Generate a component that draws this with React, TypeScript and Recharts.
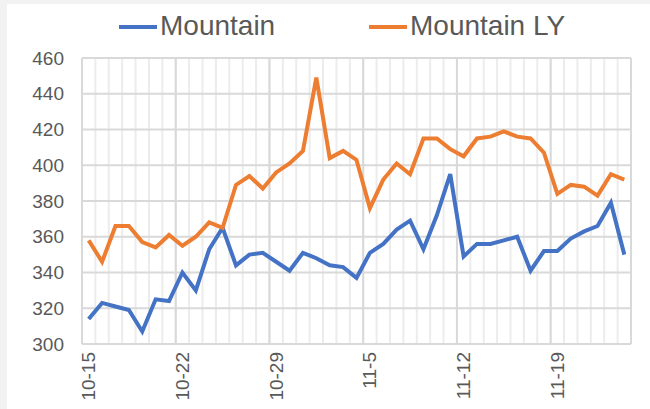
import React from "react";
import { LineChart, Line, XAxis, YAxis, CartesianGrid, Legend } from "recharts";

const dates = [
  "10-15", "10-16", "10-17", "10-18", "10-19", "10-20", "10-21",
  "10-22", "10-23", "10-24", "10-25", "10-26", "10-27", "10-28",
  "10-29", "10-30", "10-31", "11-1", "11-2", "11-3", "11-4",
  "11-5", "11-6", "11-7", "11-8", "11-9", "11-10", "11-11",
  "11-12", "11-13", "11-14", "11-15", "11-16", "11-17", "11-18",
  "11-19", "11-20", "11-21", "11-22", "11-23", "11-24",
];

const mountain = [
  314, 323, 321, 319, 307, 325, 324,
  340, 330, 353, 365, 344, 350, 351,
  346, 341, 351, 348, 344, 343, 337,
  351, 356, 364, 369, 353, 372, 395,
  349, 356, 356, 358, 360, 341, 352,
  352, 359, 363, 366, 379, 350,
];

const mountainLY = [
  358, 346, 366, 366, 357, 354, 361,
  355, 360, 368, 365, 389, 394, 387,
  396, 401, 408, 449, 404, 408, 403,
  376, 392, 401, 395, 415, 415, 409,
  405, 415, 416, 419, 416, 415, 407,
  384, 389, 388, 383, 395, 392,
];

const yTicks = [300, 320, 340, 360, 380, 400, 420, 440, 460];
const labelTicks = [0, 7, 14, 21, 28, 35];

const data = dates.map((d, i) => ({
  idx: i,
  date: d,
  mountain: mountain[i],
  mountainLY: mountainLY[i],
}));

// category boundaries: light line for each day, darker one every week
const minorTicks = dates.map((_, i) => i - 0.5).concat(dates.length - 0.5);
const majorTicks = minorTicks.filter((_, i) => i % 7 === 0);
const xDomain = [-0.5, dates.length - 0.5];

const FONT = '"Liberation Sans", Arial, sans-serif';
const TEXT = "#595959";
const BLUE = "#4472C4";
const ORANGE = "#ED7D31";

const DateTick = ({ x, y, payload }: any) => (
  <text
    x={x}
    y={y}
    transform={`rotate(-90 ${x} ${y})`}
    textAnchor="end"
    dominantBaseline="central"
    fontSize={19}
    fontFamily={FONT}
    fill={TEXT}
  >
    {dates[payload.value]}
  </text>
);

const legendLeft = [112, 362];

const LegendContent = ({ payload }: any) => (
  <div style={{ position: "relative", height: 40, width: 643 }}>
    {(payload || []).map((p: any, i: number) => (
      <div
        key={p.value}
        style={{
          position: "absolute",
          left: legendLeft[i],
          top: 0,
          display: "flex",
          alignItems: "center",
          height: 36,
        }}
      >
        <div style={{ width: 38, height: 4, background: p.color, marginRight: 3, marginTop: 2 }} />
        <span style={{ fontSize: 28, fontFamily: FONT, color: TEXT, lineHeight: "36px" }}>{p.value}</span>
      </div>
    ))}
  </div>
);

export default function App() {
  return (
    <div style={{ position: "absolute", left: 0, top: 0, width: 650, height: 409, background: "#f2f2f2" }}>
      <div style={{ position: "absolute", left: 7, top: 4, width: 643, height: 405, background: "#fff" }}>
        <LineChart width={643} height={405} data={data} margin={{ top: 54, right: 19, left: 0, bottom: 0 }}>
          <XAxis xAxisId="minor" dataKey="idx" type="number" domain={xDomain} ticks={minorTicks} interval={0} hide />
          <XAxis xAxisId="major" dataKey="idx" type="number" domain={xDomain} ticks={majorTicks} interval={0} hide />
          <XAxis
            xAxisId="main"
            dataKey="idx"
            type="number"
            domain={xDomain}
            ticks={labelTicks}
            interval={0}
            height={65}
            axisLine={false}
            tickLine={false}
            tick={<DateTick />}
          />
          <YAxis
            domain={[300, 460]}
            ticks={yTicks}
            interval={0}
            width={75}
            axisLine={false}
            tickLine={false}
            tickMargin={12}
            tick={{ fontSize: 19, fill: TEXT, fontFamily: FONT }}
          />
          <CartesianGrid xAxisId="minor" horizontal={false} stroke="#ececec" strokeWidth={2} />
          <CartesianGrid xAxisId="major" stroke="#d9d9d9" strokeWidth={2} />
          <Legend
            verticalAlign="middle"
            layout="horizontal"
            wrapperStyle={{ position: "absolute", top: 4, left: 0, width: 643 }}
            content={<LegendContent />}
          />
          <Line
            xAxisId="main"
            type="linear"
            dataKey="mountain"
            name="Mountain"
            stroke={BLUE}
            strokeWidth={4}
            dot={false}
            activeDot={false}
            isAnimationActive={false}
          />
          <Line
            xAxisId="main"
            type="linear"
            dataKey="mountainLY"
            name="Mountain LY"
            stroke={ORANGE}
            strokeWidth={4}
            dot={false}
            activeDot={false}
            isAnimationActive={false}
          />
        </LineChart>
      </div>
    </div>
  );
}
